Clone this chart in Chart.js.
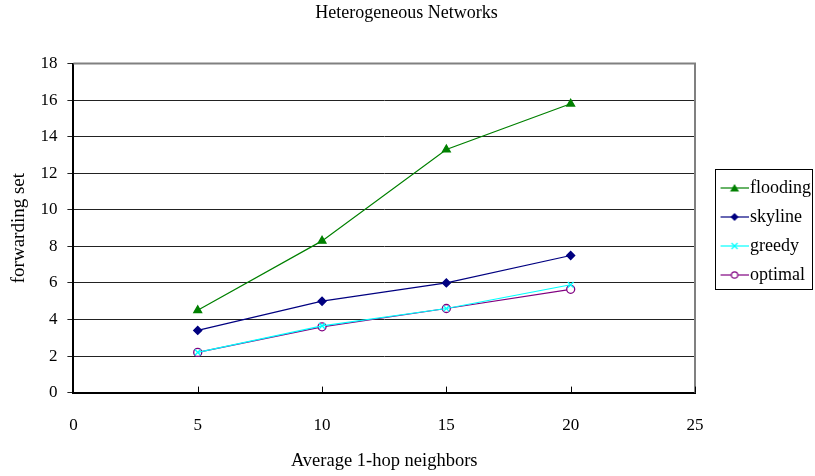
<!DOCTYPE html>
<html>
  <head>
    <meta charset="utf-8">
    <title>Heterogeneous Networks</title>
    <script src="https://cdn.jsdelivr.net/npm/chart.js@4.4.0/dist/chart.umd.min.js"></script>
    <style>
      html, body { margin: 0; padding: 0; background: #ffffff; }
      #wrap { width: 815px; height: 476px; }
    </style>
  </head>
  <body>
    <div id="wrap"><canvas id="chart" width="815" height="476"></canvas></div>
    <script>
      // values
      const neighbors = [5, 10, 15, 20];
      const flooding = [4.5, 8.3, 13.3, 15.8];
      const skyline = [3.4, 5.0, 6.0, 7.5];
      const greedy = [2.2, 3.65, 4.6, 5.9];
      const optimal = [2.2, 3.6, 4.6, 5.65];
      const xTicks = [0, 5, 10, 15, 20, 25];
      const yTicks = [0, 2, 4, 6, 8, 10, 12, 14, 16, 18];

      const FONT = "'Liberation Serif', 'DejaVu Serif', serif";

      function pts(ys) {
        return neighbors.map((x, i) => ({ x: x, y: ys[i] }));
      }

      // legend symbol: a short line with the marker on it (drawn in the right part of the image)
      function legendIcon(color, style, fill) {
        const c = document.createElement('canvas');
        c.width = 50; c.height = 12;
        const g = c.getContext('2d');
        const cx = 36;
        g.strokeStyle = color;
        g.lineWidth = 1.2;
        g.beginPath(); g.moveTo(22, 6); g.lineTo(50, 6); g.stroke();
        g.fillStyle = fill;
        g.beginPath();
        if (style === 'triangle') {
          g.moveTo(cx, 2); g.lineTo(cx + 4.5, 9.5); g.lineTo(cx - 4.5, 9.5); g.closePath(); g.fill();
        } else if (style === 'rectRot') {
          g.moveTo(cx, 2); g.lineTo(cx + 4, 6); g.lineTo(cx, 10); g.lineTo(cx - 4, 6); g.closePath(); g.fill();
        } else if (style === 'crossRot') {
          g.moveTo(cx - 3, 3); g.lineTo(cx + 3, 9); g.moveTo(cx + 3, 3); g.lineTo(cx - 3, 9); g.stroke();
        } else {
          g.fillStyle = '#ffffff';
          g.arc(cx, 6, 3.2, 0, Math.PI * 2); g.fill(); g.stroke();
        }
        return c;
      }

      const series = [
        { label: 'flooding', data: flooding, color: '#008000', style: 'triangle', fill: '#008000', r: 4.5 },
        { label: 'skyline', data: skyline, color: '#000080', style: 'rectRot', fill: '#000080', r: 4 },
        { label: 'greedy', data: greedy, color: '#00ffff', style: 'crossRot', fill: '#00ffff', r: 4 },
        { label: 'optimal', data: optimal, color: '#800080', style: 'circle', fill: '#ffffff', r: 4 }
      ];

      // frame: grey top/right edges, small x ticks inside, box around the legend
      const framePlugin = {
        id: 'frame',
        afterDraw(chart) {
          const ctx = chart.ctx;
          const a = chart.chartArea;
          const xs = chart.scales.x;
          ctx.save();
          ctx.strokeStyle = '#808080';
          ctx.lineWidth = 2;
          ctx.beginPath();
          ctx.moveTo(a.left, a.top); ctx.lineTo(a.right, a.top); ctx.lineTo(a.right, a.bottom);
          ctx.stroke();
          ctx.strokeStyle = '#000000';
          ctx.lineWidth = 1;
          xTicks.forEach(v => {
            const px = Math.round(xs.getPixelForValue(v)) + 0.5;
            ctx.beginPath(); ctx.moveTo(px, a.bottom); ctx.lineTo(px, a.bottom - 6); ctx.stroke();
          });
          const hb = chart.legend.legendHitBoxes;
          if (hb && hb.length) {
            const top = Math.min(...hb.map(h => h.top)) - 10;
            const bottom = Math.max(...hb.map(h => h.top + h.height)) + 5;
            const left = hb[0].left + 9;
            const right = chart.width - 3;
            ctx.strokeStyle = '#000000';
            ctx.lineWidth = 1;
            ctx.strokeRect(Math.round(left) + 0.5, Math.round(top) + 0.5, Math.round(right - left), Math.round(bottom - top));
          }
          ctx.restore();
        }
      };

      new Chart(document.getElementById('chart'), {
        type: 'line',
        data: {
          datasets: series.map(s => ({
            label: s.label,
            data: pts(s.data),
            borderColor: s.color,
            backgroundColor: s.fill,
            pointBorderColor: s.color,
            pointBackgroundColor: s.fill,
            pointStyle: s.style,
            pointRadius: s.r,
            pointBorderWidth: 1.3,
            borderWidth: 1.2,
            tension: 0,
            legendIcon: legendIcon(s.color, s.style, s.fill)
          }))
        },
        options: {
          responsive: false,
          animation: false,
          // negative left padding keeps the title centred on the canvas
          layout: { padding: { left: -8, right: -6, top: 2, bottom: 6 } },
          plugins: {
            title: {
              display: true,
              text: 'Heterogeneous Networks',
              color: '#000000',
              font: { family: FONT, size: 18, weight: 'normal' },
              padding: { top: 0, bottom: 40 }
            },
            legend: {
              position: 'right',
              align: 'center',
              // empty title with negative padding: lifts the legend a few pixels
              title: { display: true, text: '', color: '#000000', font: { size: 10 }, padding: { top: 0, bottom: -21 } },
              labels: {
                usePointStyle: true,
                pointStyleWidth: 35,
                color: '#000000',
                font: { family: FONT, size: 18 },
                padding: 11,
                generateLabels(chart) {
                  return chart.data.datasets.map((d, i) => ({
                    text: d.label,
                    fontColor: '#000000',
                    pointStyle: d.legendIcon,
                    fillStyle: d.backgroundColor,
                    strokeStyle: d.borderColor,
                    lineWidth: 0,
                    datasetIndex: i
                  }));
                }
              }
            },
            tooltip: { enabled: false }
          },
          scales: {
            x: {
              type: 'linear',
              min: 0,
              max: 25,
              afterBuildTicks(scale) { scale.ticks = xTicks.map(v => ({ value: v })); },
              grid: { display: false },
              border: { color: '#000000', width: 2 },
              ticks: { color: '#000000', padding: 15, font: { family: FONT, size: 17 } },
              title: {
                display: true,
                text: 'Average 1-hop neighbors',
                color: '#000000',
                font: { family: FONT, size: 18.5, lineHeight: 1 },
                padding: { top: 0.5, bottom: 0 }
              }
            },
            y: {
              min: 0,
              max: 18,
              afterBuildTicks(scale) { scale.ticks = yTicks.map(v => ({ value: v })); },
              grid: { color: '#222222', lineWidth: 1, tickLength: 6, drawTicks: true },
              border: { color: '#000000', width: 2 },
              ticks: { color: '#000000', padding: 10, font: { family: FONT, size: 17 } },
              title: {
                display: true,
                text: 'forwarding set',
                color: '#000000',
                font: { family: FONT, size: 19 },
                padding: { top: 15.6, bottom: 0 }
              }
            }
          }
        },
        plugins: [framePlugin]
      });
    </script>
  </body>
</html>
